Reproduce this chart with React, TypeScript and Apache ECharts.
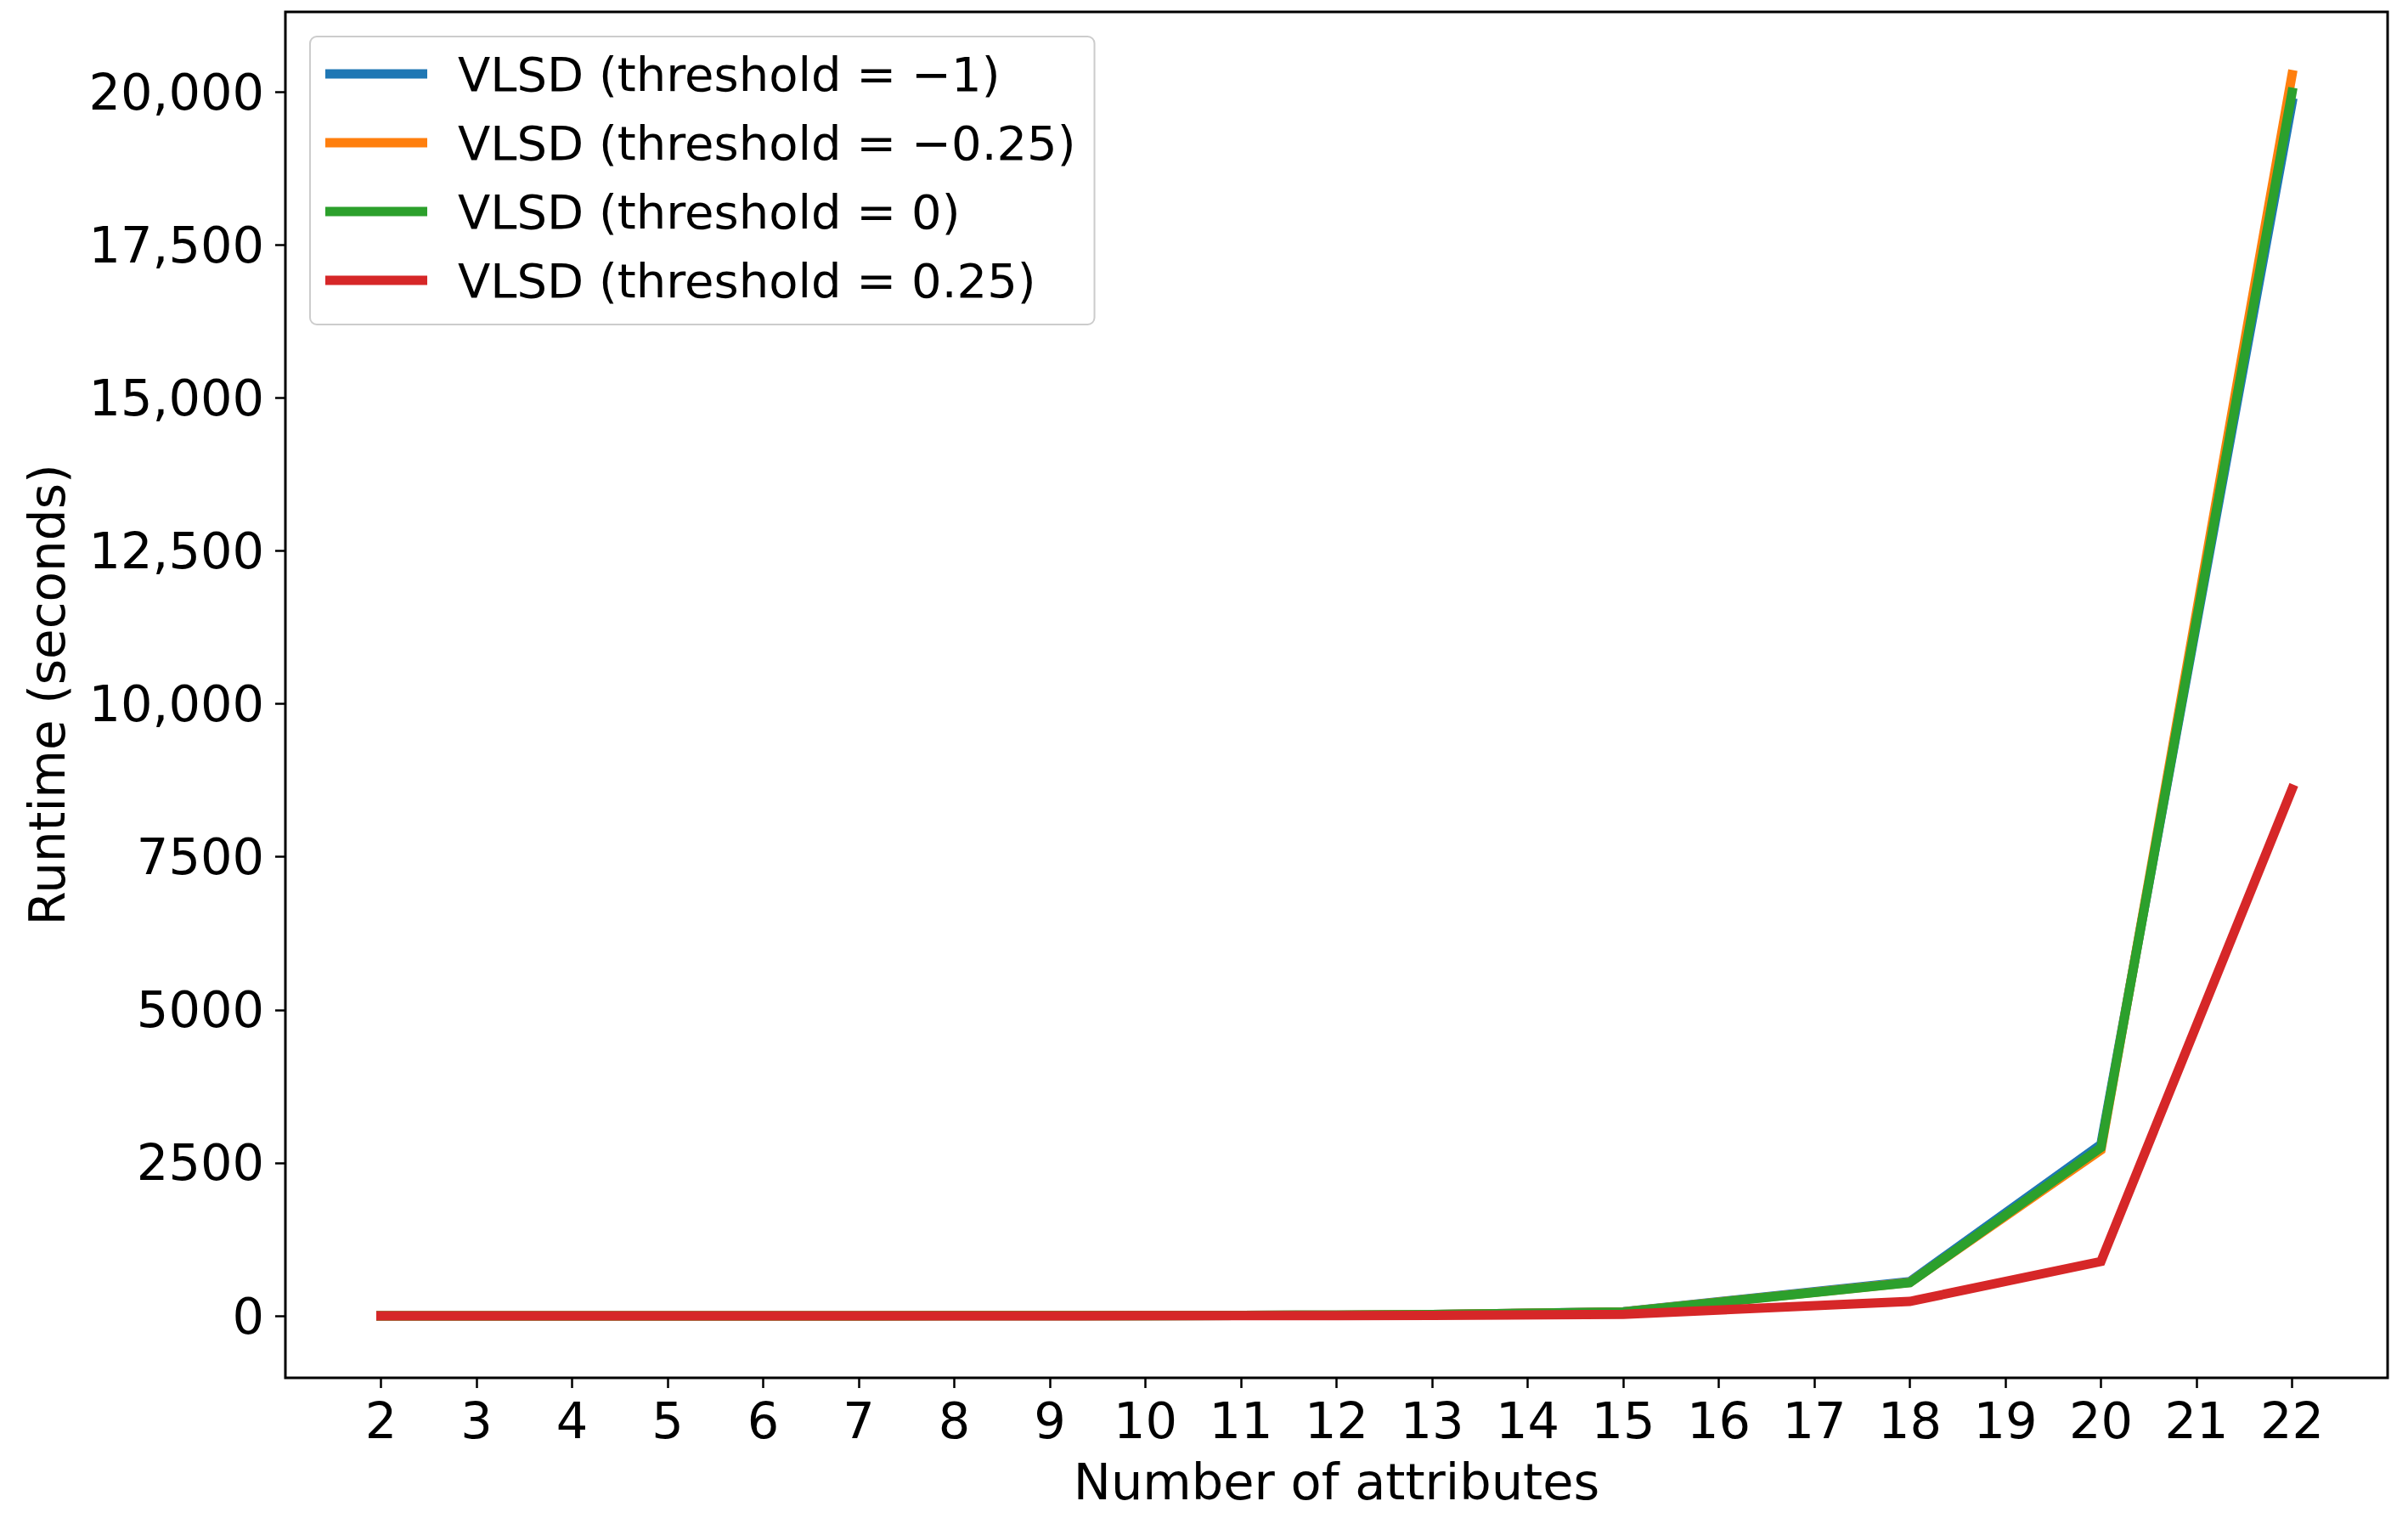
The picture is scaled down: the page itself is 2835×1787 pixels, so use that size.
import React, { useEffect, useRef } from "react";
import * as echarts from "echarts";

const attributes = [2, 3, 4, 5, 6, 7, 8, 9, 10, 11, 12, 13, 15, 18, 20, 22];
const vlsdMinus1 = [0.1, 0.2, 0.3, 0.5, 0.8, 1.2, 2, 3, 5, 8, 12, 20, 65, 560, 2800, 19820];
const vlsdMinus025 = [0.1, 0.2, 0.3, 0.5, 0.8, 1.2, 2, 3, 5, 8, 12, 20, 62, 545, 2710, 20280];
const vlsdZero = [0.1, 0.2, 0.3, 0.5, 0.8, 1.2, 2, 3, 5, 8, 12, 20, 63, 541, 2750, 19990];
const vlsd025 = [0.05, 0.1, 0.2, 0.3, 0.4, 0.6, 0.9, 1.3, 2, 3, 4, 8, 25, 236, 888, 8605];

const seriesNames = [
  "VLSD (threshold = \u22121)",
  "VLSD (threshold = \u22120.25)",
  "VLSD (threshold = 0)",
  "VLSD (threshold = 0.25)",
];
const seriesColors = ["#1f77b4", "#ff7f0e", "#2ca02c", "#d62728"];

const xTicks = [2, 3, 4, 5, 6, 7, 8, 9, 10, 11, 12, 13, 14, 15, 16, 17, 18, 19, 20, 21, 22];
const yTickValues = [0, 2500, 5000, 7500, 10000, 12500, 15000, 17500, 20000];
const yTickLabels = ["0", "2500", "5000", "7500", "10,000", "12,500", "15,000", "17,500", "20,000"];

const FONT = "DejaVu Sans";
const FS_LEGEND = 56;
const FS_TICK = 59;
const FS_XNAME = 59;
const FS_YNAME = 58;

export default function App() {
  const ref = useRef<HTMLDivElement>(null);
  useEffect(() => {
    if (!ref.current) return;
    const chart = echarts.init(ref.current, null, { renderer: "svg" });
    const allSeries = [vlsdMinus1, vlsdMinus025, vlsdZero, vlsd025];
    chart.setOption({
      animation: false,
      backgroundColor: "#ffffff",
      grid: {
        left: 336,
        right: 24,
        top: 14,
        bottom: 165,
        show: true,
        borderColor: "#000000",
        borderWidth: 3,
        backgroundColor: "transparent",
      },
      legend: {
        orient: "vertical",
        left: 365,
        top: 43,
        padding: [16, 22, 24, 18],
        backgroundColor: "rgba(255,255,255,0.8)",
        borderColor: "#cccccc",
        borderWidth: 2,
        borderRadius: 8,
        icon: "rect",
        itemWidth: 120,
        itemHeight: 11,
        itemGap: 25,
        data: seriesNames,
        textStyle: {
          fontFamily: FONT,
          fontSize: FS_LEGEND,
          color: "#000000",
          lineHeight: 56,
          padding: [0, 0, 0, 31],
        },
      },
      xAxis: {
        type: "value",
        min: 1,
        max: 23,
        name: "Number of attributes",
        nameLocation: "middle",
        nameGap: 93,
        nameTextStyle: { fontFamily: FONT, fontSize: FS_XNAME, color: "#000000" },
        axisLine: { show: false, onZero: false },
        splitLine: { show: false },
        axisTick: {
          show: true,
          length: 12,
          customValues: xTicks,
          lineStyle: { color: "#000000", width: 2.5 },
        },
        axisLabel: {
          customValues: xTicks,
          margin: 21,
          fontFamily: FONT,
          fontSize: FS_TICK,
          color: "#000000",
          formatter: (v: number) => String(v),
        },
      },
      yAxis: {
        type: "value",
        min: -1013,
        max: 21305,
        name: "Runtime (seconds)",
        nameLocation: "middle",
        nameGap: 251,
        nameTextStyle: { fontFamily: FONT, fontSize: FS_YNAME, color: "#000000" },
        axisLine: { show: false, onZero: false },
        splitLine: { show: false },
        axisTick: {
          show: true,
          length: 12,
          customValues: yTickValues,
          lineStyle: { color: "#000000", width: 2.5 },
        },
        axisLabel: {
          customValues: yTickValues,
          margin: 25,
          fontFamily: FONT,
          fontSize: FS_TICK,
          color: "#000000",
          formatter: (v: number) => {
            const i = yTickValues.indexOf(v);
            return i >= 0 ? yTickLabels[i] : "";
          },
        },
      },
      series: allSeries.map((vals, i) => ({
        name: seriesNames[i],
        type: "line",
        data: attributes.map((x, j) => [x, vals[j]]),
        showSymbol: false,
        symbol: "none",
        color: seriesColors[i],
        lineStyle: { color: seriesColors[i], width: 11, cap: "square", join: "miter" },
        z: 2 + i,
      })),
    });
    return () => chart.dispose();
  }, []);
  return (
    <div
      ref={ref}
      style={{ position: "absolute", left: 0, top: 0, width: 2835, height: 1787 }}
    />
  );
}
